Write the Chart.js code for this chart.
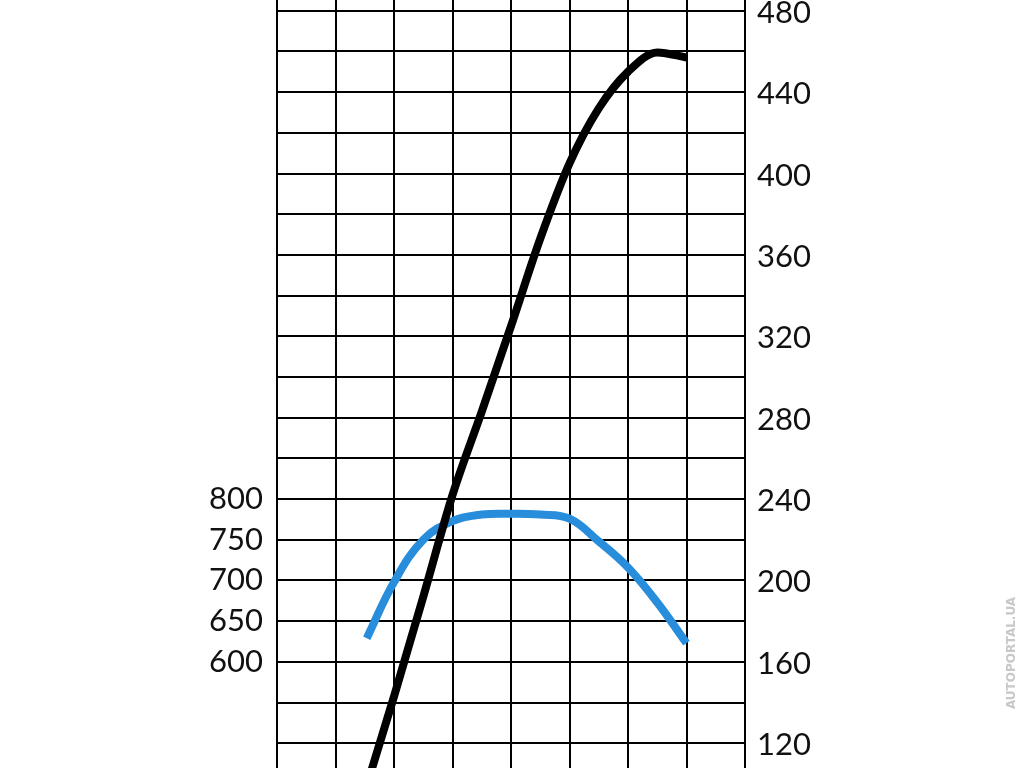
<!DOCTYPE html>
<html>
<head>
<meta charset="utf-8">
<script src="https://cdn.jsdelivr.net/npm/chart.js@4/dist/chart.umd.min.js"></script>
<style>
  html, body { margin: 0; padding: 0; background: #fff; }
  #chart { display: block; }
</style>
</head>
<body>
<canvas id="chart" width="1024" height="768" style="width:1024px;height:768px"></canvas>
<script>
// engine speed, rpm (x axis has no labels in the picture)
const rpmPower = [750, 1000, 1250, 1500, 1750, 2000, 2250, 2500, 2750, 3000, 3250, 3500];
const power = [96, 143, 192, 242, 283, 325, 368, 405, 432, 450, 459.5, 457];

const rpmTorque = [767, 1000, 1250, 1500, 1750, 2000, 2250, 2500, 2750, 3000, 3250, 3500];
const torque = [629, 698, 750, 773, 781, 782, 781, 776, 748, 716, 673, 623];

const torqueTicks = [600, 650, 700, 750, 800];
const powerTickStep = 40;

// visible window of the right axis; left axis follows it (800 Nm sits on 240)
const powerMin = 107.86, powerMax = 485.26;
const toTorque = v => 800 + (v - 240) * 2.5;

const tickFont = { family: 'Lato', size: 31, weight: 'normal' };

const watermark = {
  id: 'watermark',
  afterDraw(chart) {
    const ctx = chart.ctx;
    ctx.save();
    ctx.translate(1012, 653);
    ctx.rotate(-Math.PI / 2);
    ctx.textAlign = 'center';
    ctx.textBaseline = 'middle';
    ctx.fillStyle = '#c8c8c8';
    ctx.font = 'bold 12px "DejaVu Sans"';
    ctx.fillText('AUTOPORTAL.UA', 0, 0);
    ctx.restore();
  }
};

new Chart(document.getElementById('chart'), {
  type: 'line',
  data: {
    datasets: [{
      label: 'Power',
      data: rpmPower.map((r, i) => ({ x: r, y: power[i] })),
      yAxisID: 'yR',
      borderColor: '#000000',
      borderWidth: 8,
      borderCapStyle: 'butt',
      pointRadius: 0,
      cubicInterpolationMode: 'monotone'
    }, {
      label: 'Torque',
      data: rpmTorque.map((r, i) => ({ x: r, y: torque[i] })),
      yAxisID: 'yL',
      borderColor: '#288ddb',
      borderWidth: 8,
      borderCapStyle: 'butt',
      pointRadius: 0,
      tension: 0.4
    }]
  },
  options: {
    responsive: false,
    animation: false,
    devicePixelRatio: 1,
    layout: { padding: 0 },
    plugins: { legend: { display: false }, tooltip: { enabled: false } },
    scales: {
      x: {
        type: 'linear',
        min: 0,
        max: 4000,
        ticks: { display: false, stepSize: 500 },
        grid: { color: '#000', lineWidth: 2, drawTicks: false },
        border: { display: false }
      },
      yL: {
        type: 'linear',
        position: 'left',
        min: toTorque(powerMin),
        max: toTorque(powerMax),
        afterBuildTicks: s => { s.ticks = torqueTicks.map(v => ({ value: v })); },
        afterFit: s => { s.width = 277; s.paddingTop = 0; s.paddingBottom = 0; },
        ticks: { font: tickFont, color: '#111', padding: 14 },
        grid: { display: false, drawTicks: false },
        border: { display: true, color: '#000', width: 2 }
      },
      yR: {
        type: 'linear',
        position: 'right',
        min: powerMin,
        max: powerMax,
        afterFit: s => { s.width = 279; s.paddingTop = 0; s.paddingBottom = 0; },
        ticks: {
          stepSize: 20,
          includeBounds: false,
          font: tickFont,
          color: '#111',
          padding: 12,
          labelOffset: 2,
          callback: v => (v % powerTickStep === 0 ? v : '')
        },
        grid: { color: '#000', lineWidth: 2, drawTicks: false },
        border: { display: true, color: '#000', width: 2 }
      }
    }
  },
  plugins: [watermark]
});
</script>
</body>
</html>
